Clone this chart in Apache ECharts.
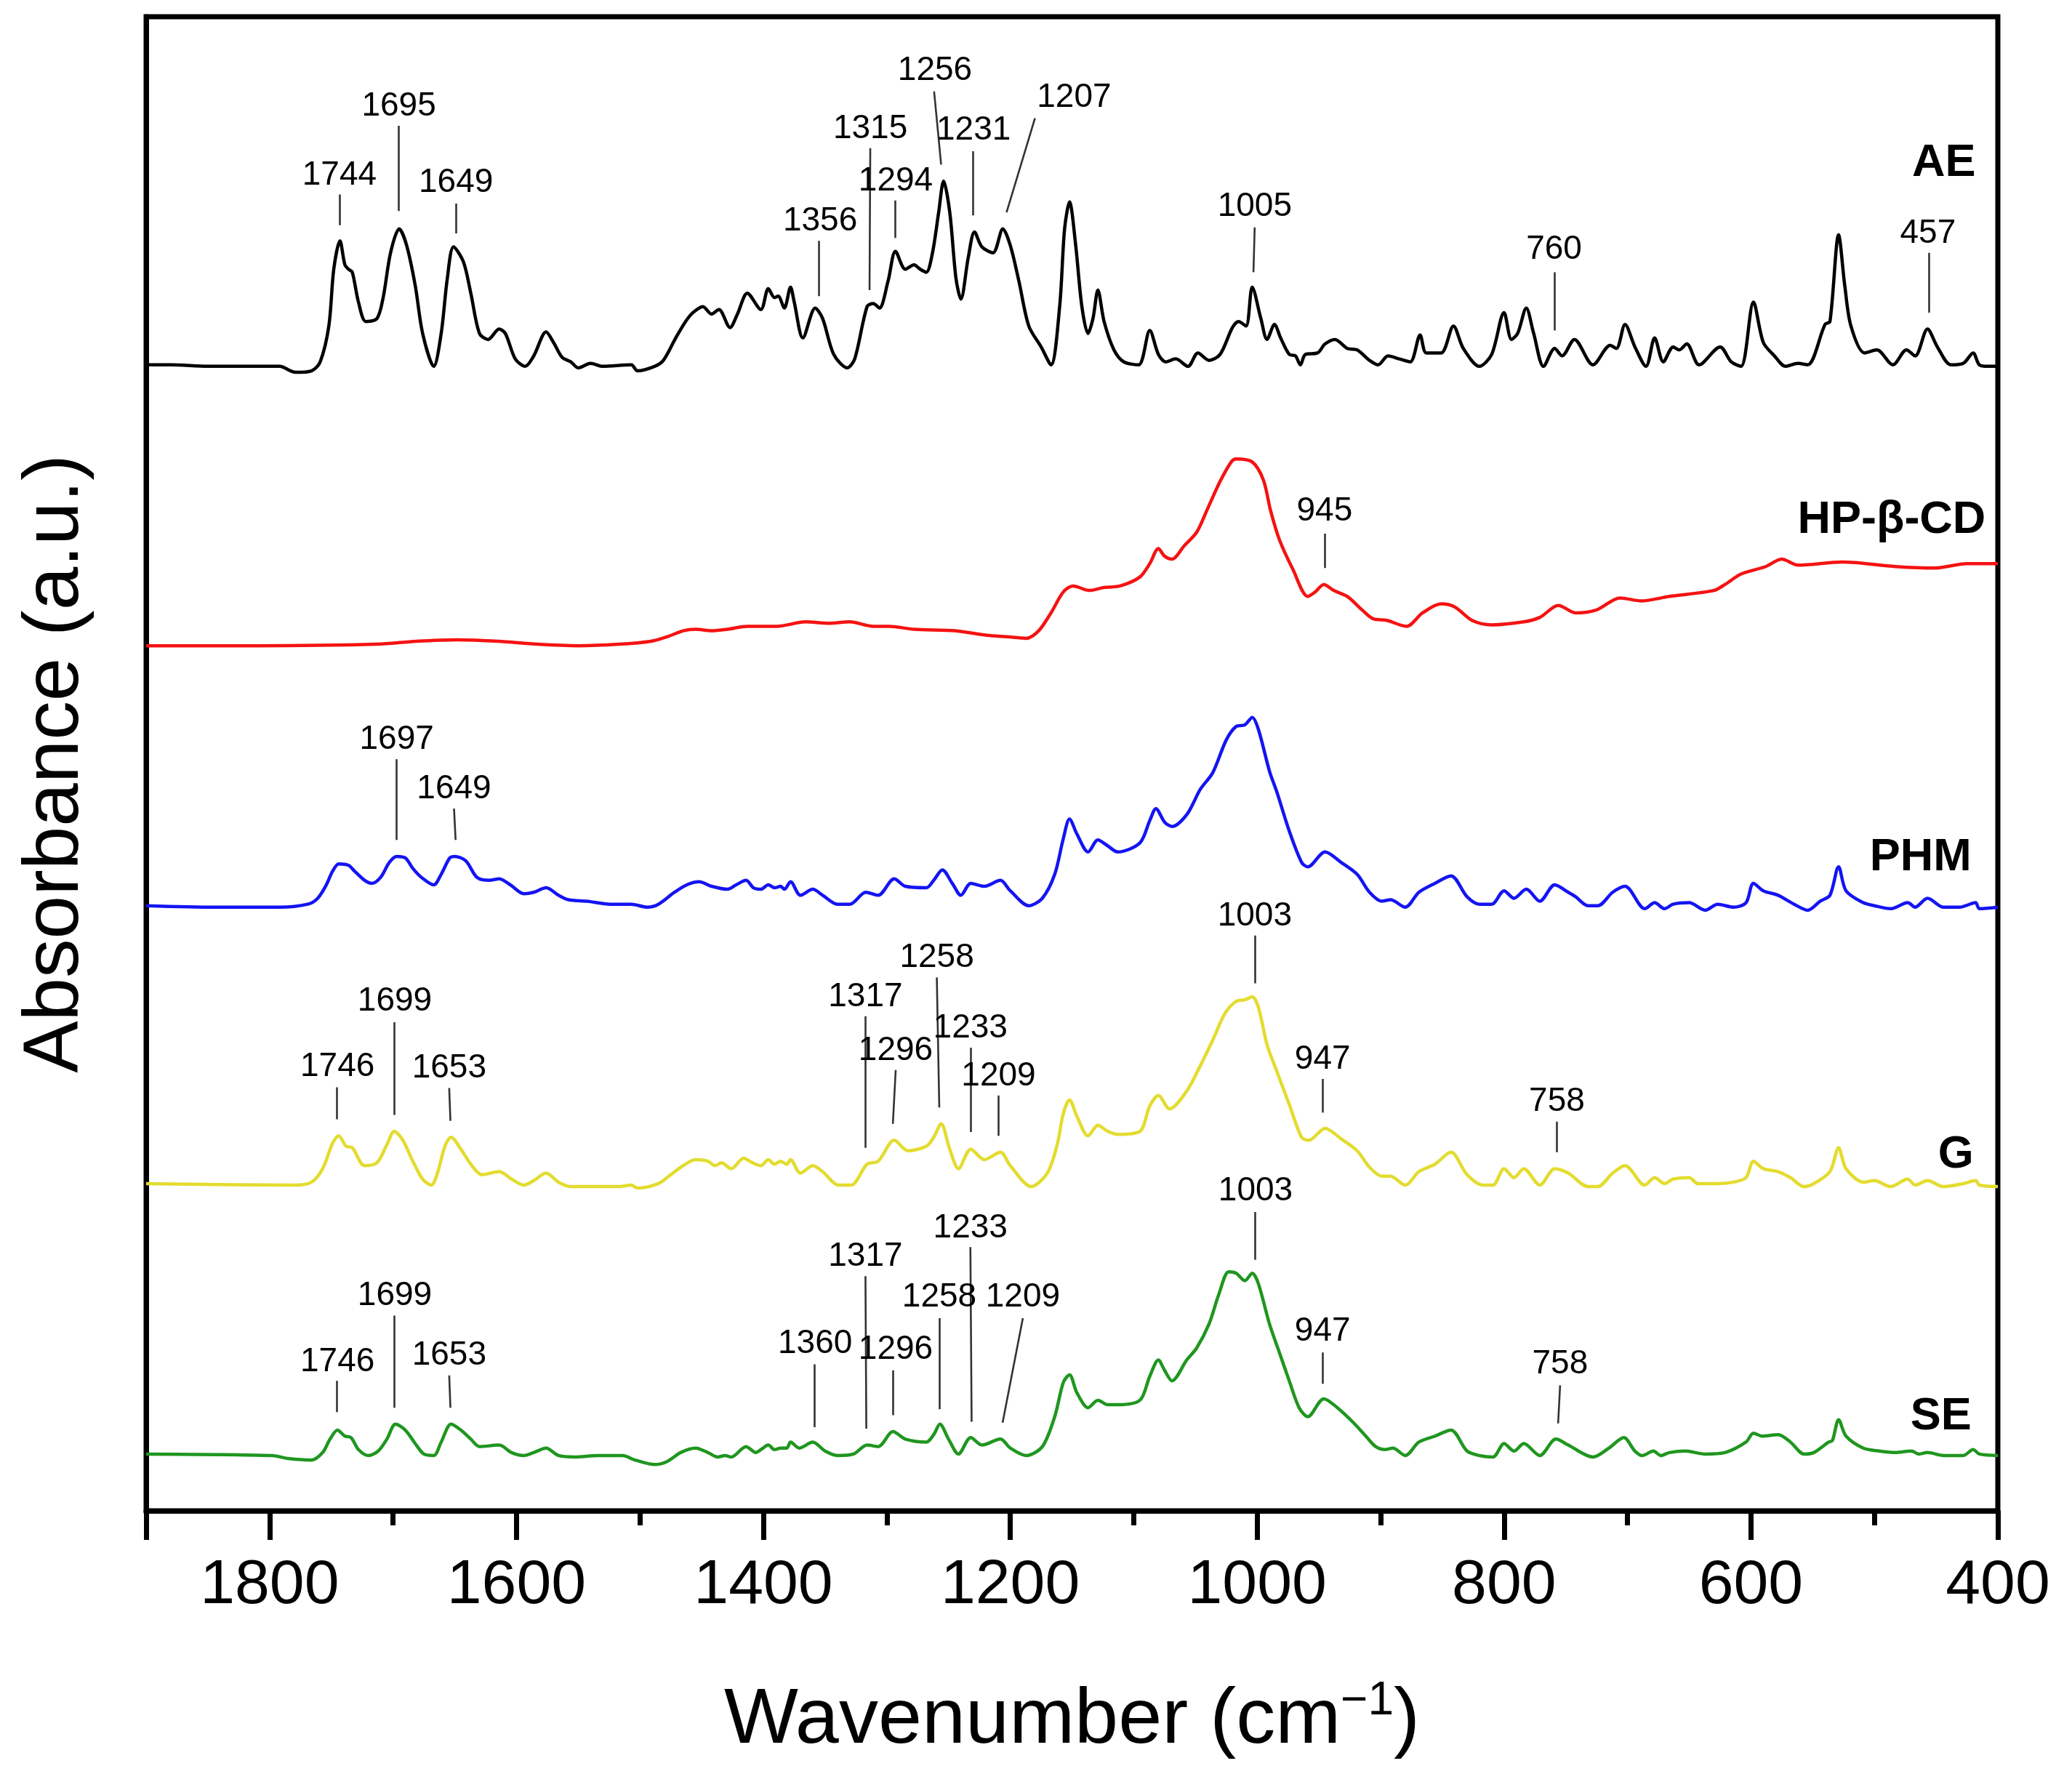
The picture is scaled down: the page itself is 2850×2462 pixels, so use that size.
<!DOCTYPE html>
<html>
<head>
<meta charset="utf-8">
<script src="https://cdn.jsdelivr.net/npm/echarts/dist/echarts.min.js"></script>
<style>html,body{margin:0;padding:0;background:#fff}#c{width:2850px;height:2462px}</style>
</head>
<body>
<div id="c"></div>
<script>
// ---- data: [wavenumber (cm-1), absorbance (a.u., stacked offset as in figure)] ----
const AE = [[1900,76.7],[1880,76.7],[1850,76.6],[1820,76.6],[1792,76.6],[1779,76.2],[1766,76.3],[1759,76.9],[1752,79.3],[1748,83.1],[1743,85.0],[1739,83.4],[1736,83.1],[1733,82.9],[1728,80.9],[1722,79.6],[1713,79.8],[1708,81.2],[1702,84.2],[1695,85.8],[1689,84.7],[1682,82.0],[1676,78.8],[1667,76.6],[1661,78.8],[1656,82.5],[1651,84.6],[1643,83.6],[1637,81.5],[1630,78.8],[1623,78.4],[1614,79.1],[1609,78.8],[1601,77.1],[1593,76.6],[1586,77.3],[1576,78.9],[1570,78.2],[1563,77.2],[1556,76.9],[1550,76.5],[1540,76.8],[1530,76.6],[1507,76.7],[1502,76.3],[1488,76.6],[1481,77.0],[1471,78.5],[1463,79.6],[1457,80.2],[1449,80.6],[1442,80.1],[1436,80.4],[1427,79.2],[1421,80.1],[1413,81.5],[1402,80.4],[1396,81.8],[1391,81.2],[1388,81.3],[1383,80.5],[1378,81.9],[1375,80.9],[1368,78.5],[1358,80.5],[1352,79.8],[1343,77.4],[1332,76.5],[1326,77.1],[1316,80.6],[1311,80.8],[1306,80.5],[1299,82.3],[1293,84.3],[1285,83.1],[1278,83.4],[1273,83.1],[1268,82.9],[1263,84.2],[1258,86.9],[1254,89.0],[1249,86.9],[1244,82.5],[1240,81.1],[1234,83.9],[1229,85.6],[1223,84.6],[1214,84.2],[1206,85.8],[1200,84.7],[1193,82.3],[1185,79.3],[1175,77.9],[1167,76.7],[1160,80.6],[1156,85.8],[1152,87.6],[1147,84.7],[1142,80.6],[1137,78.8],[1133,79.8],[1129,81.7],[1124,79.6],[1116,77.7],[1108,76.9],[1096,76.7],[1087,79.0],[1080,77.4],[1074,76.9],[1066,77.1],[1056,76.6],[1048,77.5],[1039,77.0],[1030,77.4],[1020,79.2],[1015,79.6],[1009,79.3],[1004,81.9],[997,79.8],[992,78.4],[986,79.4],[981,78.5],[974,77.4],[969,77.3],[965,76.7],[961,77.4],[951,77.5],[945,78.1],[937,78.4],[927,77.8],[919,77.7],[909,77.0],[902,76.7],[894,77.3],[885,77.1],[876,76.9],[868,78.7],[863,77.5],[851,77.5],[841,79.3],[833,77.8],[820,76.6],[810,77.4],[800,80.2],[794,78.4],[789,78.8],[782,80.5],[776,78.8],[768,76.6],[759,77.8],[753,77.3],[743,78.4],[728,76.7],[714,78.0],[709,77.8],[702,79.4],[694,77.9],[685,76.6],[678,78.5],[671,76.9],[663,77.9],[658,77.7],[652,78.1],[642,76.7],[625,77.9],[616,76.9],[608,76.6],[598,80.9],[590,78.2],[581,77.3],[572,76.6],[562,76.8],[554,76.7],[540,79.4],[536,79.6],[529,85.4],[524,82.0],[519,79.3],[508,77.5],[498,77.7],[485,76.7],[474,77.7],[467,77.3],[457,79.1],[449,77.9],[438,76.7],[428,76.8],[420,77.5],[415,76.7],[408,76.6],[400,76.6]];

const HPBCD = [[1900,57.9],[1811,57.9],[1713,58.0],[1681,58.2],[1648,58.3],[1615,58.2],[1583,58.0],[1550,57.9],[1517,58.0],[1491,58.2],[1478,58.5],[1465,58.9],[1455,59.0],[1442,58.9],[1429,59.0],[1413,59.2],[1389,59.2],[1366,59.5],[1347,59.4],[1330,59.5],[1311,59.2],[1298,59.2],[1278,59.0],[1245,58.9],[1219,58.6],[1203,58.5],[1187,58.4],[1177,58.9],[1167,60.1],[1157,61.5],[1149,61.9],[1136,61.6],[1124,61.8],[1111,61.9],[1095,62.5],[1087,63.4],[1080,64.4],[1075,63.9],[1069,63.7],[1059,64.6],[1049,65.5],[1040,67.1],[1030,68.9],[1021,70.2],[1017,70.4],[1004,70.2],[995,69.0],[989,66.9],[982,65.0],[971,63.0],[959,61.2],[953,61.5],[946,62.0],[938,61.6],[927,61.2],[915,60.3],[906,59.7],[895,59.6],[879,59.2],[866,60.1],[851,60.7],[840,60.5],[826,59.6],[810,59.3],[784,59.5],[771,59.8],[756,60.6],[742,60.1],[725,60.3],[706,61.1],[689,60.9],[666,61.2],[630,61.6],[621,62.0],[608,62.7],[588,63.2],[575,63.7],[562,63.3],[526,63.5],[483,63.2],[451,63.1],[425,63.4],[400,63.4]];

const PHM = [[1900,40.5],[1844,40.4],[1792,40.4],[1769,40.6],[1761,41.0],[1754,41.9],[1749,42.8],[1744,43.3],[1736,43.2],[1731,42.8],[1723,42.2],[1717,42.0],[1710,42.4],[1703,43.4],[1697,43.8],[1690,43.7],[1684,43.0],[1677,42.4],[1667,41.9],[1661,42.6],[1654,43.7],[1650,43.8],[1641,43.5],[1632,42.4],[1622,42.2],[1614,42.3],[1605,41.9],[1594,41.3],[1586,41.4],[1576,41.7],[1566,41.2],[1558,40.9],[1543,40.8],[1524,40.6],[1507,40.6],[1494,40.4],[1485,40.6],[1472,41.4],[1462,41.9],[1452,42.1],[1442,41.8],[1429,41.6],[1422,41.9],[1414,42.2],[1408,41.7],[1402,41.6],[1396,41.9],[1391,41.7],[1386,41.8],[1383,41.6],[1378,42.1],[1370,41.2],[1360,41.6],[1352,41.2],[1340,40.6],[1330,40.6],[1317,41.4],[1307,41.2],[1294,42.3],[1285,41.8],[1268,41.7],[1262,42.2],[1255,42.9],[1247,42.0],[1240,41.2],[1232,42.0],[1221,41.8],[1208,42.2],[1200,41.5],[1185,40.5],[1174,41.0],[1164,42.6],[1157,45.0],[1152,46.3],[1146,45.3],[1137,44.1],[1129,44.9],[1121,44.5],[1113,44.1],[1095,44.7],[1087,46.2],[1082,47.0],[1075,46.1],[1069,45.8],[1057,46.6],[1046,48.3],[1036,49.4],[1025,51.6],[1017,52.5],[1010,52.6],[1004,53.1],[999,52.3],[990,49.5],[984,48.1],[974,45.5],[964,43.4],[959,43.1],[945,44.1],[932,43.4],[919,42.6],[909,41.4],[899,40.8],[892,40.9],[880,40.4],[869,41.4],[856,42.0],[843,42.5],[830,41.1],[820,40.6],[810,40.6],[800,41.5],[792,41.0],[782,41.6],[771,40.8],[759,41.9],[748,41.4],[742,41.1],[732,40.5],[724,40.5],[712,41.4],[702,41.8],[686,40.3],[678,40.7],[670,40.3],[663,40.6],[650,40.7],[637,40.2],[627,40.6],[614,40.4],[604,40.7],[598,42.0],[590,41.5],[578,41.2],[565,40.6],[554,40.2],[544,40.8],[536,41.2],[529,43.1],[523,41.5],[509,40.7],[500,40.5],[487,40.3],[473,40.7],[467,40.4],[457,41.0],[444,40.4],[431,40.4],[418,40.7],[415,40.3],[400,40.4]];

const G = [[1900,21.9],[1779,21.8],[1766,22.0],[1757,22.9],[1749,24.6],[1744,25.1],[1738,24.4],[1733,24.3],[1723,23.1],[1713,23.3],[1705,24.5],[1699,25.4],[1692,24.8],[1684,23.4],[1676,22.2],[1669,21.8],[1664,22.6],[1658,24.4],[1653,25.0],[1645,24.2],[1637,23.2],[1628,22.5],[1614,22.7],[1604,22.2],[1594,21.8],[1586,22.1],[1576,22.6],[1566,22.0],[1556,21.7],[1540,21.7],[1517,21.7],[1507,21.8],[1502,21.6],[1485,21.9],[1475,22.5],[1465,23.1],[1455,23.5],[1445,23.4],[1439,23.1],[1434,23.3],[1426,22.9],[1416,23.6],[1409,23.3],[1402,23.1],[1396,23.5],[1391,23.2],[1386,23.4],[1381,23.2],[1378,23.5],[1370,22.6],[1360,23.1],[1352,22.7],[1339,21.8],[1329,21.8],[1316,23.2],[1307,23.4],[1294,24.8],[1283,24.1],[1268,24.4],[1262,25.0],[1256,25.9],[1249,24.2],[1242,22.9],[1232,24.2],[1221,23.5],[1208,24.0],[1200,23.1],[1183,21.7],[1170,22.6],[1162,24.5],[1157,26.6],[1152,27.5],[1146,26.4],[1137,25.1],[1129,25.8],[1121,25.4],[1113,25.2],[1095,25.4],[1087,27.1],[1080,27.8],[1071,26.9],[1057,28.1],[1046,29.8],[1036,31.5],[1026,33.3],[1017,34.1],[1010,34.2],[1004,34.4],[999,33.7],[992,31.2],[984,29.4],[974,27.2],[964,25.0],[958,24.8],[945,25.6],[932,24.9],[919,24.1],[909,23.0],[899,22.4],[892,22.4],[880,21.8],[869,22.7],[856,23.2],[843,24.0],[830,22.5],[817,21.8],[809,21.8],[800,22.9],[792,22.3],[784,22.9],[771,21.8],[759,22.9],[748,22.6],[732,21.7],[724,21.7],[712,22.6],[702,23.1],[686,21.8],[678,22.3],[670,21.9],[663,22.2],[650,22.3],[643,21.9],[627,21.9],[614,22.0],[604,22.3],[598,23.4],[590,22.9],[578,22.7],[568,22.3],[557,21.7],[549,21.9],[536,22.7],[529,24.3],[523,22.9],[509,22.0],[500,22.1],[487,21.7],[473,22.2],[467,21.8],[457,22.1],[444,21.7],[428,21.9],[418,22.1],[415,21.8],[400,21.7]];

const SE = [[1900,3.8],[1798,3.7],[1785,3.5],[1766,3.4],[1757,3.9],[1751,4.8],[1745,5.4],[1739,5.0],[1734,4.9],[1728,4.1],[1720,3.7],[1712,4.0],[1705,4.8],[1698,5.8],[1690,5.4],[1682,4.5],[1675,3.8],[1667,3.7],[1661,4.6],[1653,5.8],[1645,5.4],[1637,4.8],[1630,4.3],[1614,4.4],[1604,3.9],[1594,3.7],[1586,3.9],[1576,4.2],[1566,3.7],[1553,3.6],[1534,3.7],[1514,3.7],[1504,3.4],[1488,3.1],[1478,3.3],[1467,3.9],[1455,4.2],[1445,3.9],[1437,3.6],[1431,3.7],[1426,3.6],[1414,4.3],[1406,3.9],[1402,4.1],[1396,4.4],[1391,4.1],[1386,4.2],[1381,4.2],[1378,4.6],[1371,4.2],[1360,4.6],[1350,4.0],[1340,3.7],[1327,3.8],[1316,4.4],[1307,4.3],[1295,5.3],[1285,4.8],[1268,4.6],[1262,5.1],[1257,5.8],[1250,4.8],[1242,3.8],[1232,4.9],[1223,4.4],[1208,4.8],[1200,4.2],[1187,3.7],[1174,4.3],[1164,6.3],[1157,8.6],[1152,9.1],[1146,7.9],[1137,6.9],[1129,7.4],[1121,7.1],[1113,7.1],[1095,7.4],[1087,9.0],[1080,10.1],[1075,9.4],[1069,8.7],[1057,10.1],[1049,10.9],[1039,12.5],[1031,14.5],[1023,16.0],[1017,15.9],[1010,15.4],[1004,15.9],[999,15.2],[990,12.5],[982,10.6],[974,8.7],[966,6.9],[959,6.3],[946,7.5],[935,6.9],[922,5.9],[912,5.0],[904,4.3],[896,4.1],[890,4.2],[880,3.7],[869,4.6],[856,5.0],[843,5.4],[830,4.0],[820,3.7],[809,3.6],[800,4.5],[792,4.0],[784,4.5],[771,3.7],[758,4.8],[748,4.4],[728,3.6],[715,4.2],[703,4.9],[694,4.0],[688,3.7],[679,4.0],[673,3.7],[666,3.9],[653,4.0],[637,3.8],[621,3.9],[604,4.6],[598,5.2],[591,5.0],[578,5.1],[568,4.6],[557,3.8],[549,3.9],[537,4.6],[534,4.7],[529,6.1],[523,5.0],[509,4.2],[496,4.0],[483,3.9],[470,4.0],[464,3.8],[457,3.9],[444,3.7],[428,3.7],[420,4.1],[415,3.8],[400,3.7]];

// x-axis tick labels
const xTicks = [1800, 1600, 1400, 1200, 1000, 800, 600, 400];

// peak annotations: [text, text wn, text y, leader top wn, leader top y, leader bottom wn, leader bottom y]
const AE_PEAKS = [['1744',1743.4,89.4,1743.4,88.1,1743.4,86.05],['1695',1695.3,94.0,1695.3,92.7,1695.3,87.0],['1649',1649,88.9,1649,87.5,1649,85.5],['1356',1354,86.3,1355,85.0,1355,81.3],['1315',1313.4,92.5,1313.4,91.2,1314,81.7],['1294',1292.8,89.0,1293.4,87.7,1293.4,85.2],['1256',1261,96.4,1261.7,95.0,1256,90.1],['1231',1229.7,92.4,1230,91.0,1230,86.7],['1207',1148.3,94.6,1180,93.2,1203,86.9],['1005',1002,87.3,1002,85.9,1003,82.9],['760',759.5,84.4,759,82.9,759,79.0],['457',456.6,85.5,455.6,84.2,455.6,80.2]];
const HP_PEAKS = [['945',945.4,66.9,945.4,65.4,945.4,63.1]];
const PHM_PEAKS = [['1697',1697,51.6,1697,50.3,1697,44.9],['1649',1650.6,48.3,1650.6,47.0,1649.3,44.9]];
const G_PEAKS = [['1746',1745,29.7,1745.3,28.35,1745.3,26.2],['1699',1698.6,34.1,1699.3,32.7,1699.3,26.5],['1653',1654.5,29.6,1654.5,28.3,1653.5,26.1],['1317',1317.3,34.4,1317.3,33.1,1317.3,24.3],['1296',1292.8,30.8,1292.8,29.5,1295.1,25.9],['1258',1259.5,37.0,1259.5,35.7,1257.5,27.0],['1233',1232.3,32.3,1232.3,31.0,1232.3,25.35],['1209',1209.5,29.1,1209.5,27.8,1209.5,25.1],['1003',1002,39.8,1002,38.5,1002,35.3],['947',947,30.2,947,28.9,947,26.65],['758',757.2,27.4,757.2,26.05,757.2,24.0]];
const SE_PEAKS = [['1746',1745,9.95,1745.3,8.7,1745.3,6.6],['1699',1698.6,14.4,1699.3,13.06,1699.3,6.9],['1653',1654.5,10.4,1654.5,9.06,1653.5,6.9],['1360',1358.1,11.2,1358.8,9.8,1358.8,5.6],['1317',1317.3,17.0,1317.3,15.7,1316.6,5.5],['1296',1292.8,10.8,1294.8,9.4,1294.8,6.4],['1258',1257.5,14.3,1257.5,12.9,1257.5,6.8],['1233',1232.3,18.9,1232.3,17.65,1231.3,5.96],['1209',1189.8,14.3,1189.8,12.9,1206.2,5.9],['1003',1001.3,21.4,1001.9,20.0,1001.9,16.8],['947',947,12.0,947,10.6,947,8.5],['758',754.6,9.8,754.6,8.4,756.2,5.85]];

// sample names: [name, right-end wn, y]
const NAMES = [['AE',418,90.2],['HP-β-CD',409.8,66.3],['PHM',421.3,43.7],['G',419.6,23.8],['SE',421.3,6.3]];

const FONT = '"Liberation Sans", Arial, Helvetica, sans-serif';
const spectra = [
  {name:'AE', data:AE, color:'#000000'},
  {name:'HP-β-CD', data:HPBCD, color:'#f51212'},
  {name:'PHM', data:PHM, color:'#1414f2'},
  {name:'G', data:G, color:'#e3dc2f'},
  {name:'SE', data:SE, color:'#1f961f'}
];
const allPeaks = [].concat(AE_PEAKS, HP_PEAKS, PHM_PEAKS, G_PEAKS, SE_PEAKS);

const chart = echarts.init(document.getElementById('c'), null, {renderer:'canvas', devicePixelRatio:1});
const series = spectra.map(s => ({
  type:'line', name:s.name, data:s.data, showSymbol:false, symbol:'none',
  smooth:0.3, lineStyle:{color:s.color, width:4.5}, silent:true, z:3
}));
series.push({
  type:'lines', coordinateSystem:'cartesian2d', silent:true, z:4,
  lineStyle:{color:'#333333', width:2.6, opacity:1},
  data: allPeaks.map(p => ({coords:[[p[3],p[4]],[p[5],p[6]]]}))
});
series.push({
  type:'scatter', silent:true, z:5, symbolSize:1, itemStyle:{color:'#ffffff', opacity:0},
  data: allPeaks.map(p => [p[1], p[2], p[0]]),
  label:{show:true, position:'inside', formatter:p => p.value[2], fontFamily:FONT, fontSize:46, color:'#000000', opacity:1, textBorderWidth:0, align:'center', verticalAlign:'middle'}
});
series.push({
  type:'scatter', silent:true, z:5, symbolSize:1, itemStyle:{color:'#ffffff', opacity:0},
  data: NAMES.map(n => [n[1], n[2], n[0]]),
  label:{show:true, position:'inside', formatter:p => p.value[2], fontFamily:FONT, fontSize:63, fontWeight:'bold', color:'#000000', opacity:1, textBorderWidth:0, align:'right', verticalAlign:'middle'}
});

chart.setOption({
  backgroundColor:'#ffffff',
  animation:false,
  grid:{left:201, right:102, top:23, bottom:384, show:true, borderColor:'#000', borderWidth:7, backgroundColor:'transparent', containLabel:false, outerBoundsMode:'none'},
  xAxis:[{
    type:'value', inverse:true, min:400, max:1900, interval:200, position:'bottom',
    axisLine:{show:true, lineStyle:{color:'#000', width:7}},
    axisTick:{show:true, inside:false, length:40, lineStyle:{color:'#000', width:7}},
    axisLabel:{show:true, margin:60, fontSize:86, fontFamily:FONT, color:'#000', showMinLabel:true, showMaxLabel:true,
      formatter: v => xTicks.indexOf(v) >= 0 ? String(v) : ''},
    splitLine:{show:false},
    name:'{a|Wavenumber (cm}{s|−1}{a|)}', nameLocation:'middle', nameGap:230,
    nameTextStyle:{fontFamily:FONT, color:'#000', rich:{
      a:{fontSize:108, fontFamily:FONT, color:'#000'},
      s:{fontSize:64, fontFamily:FONT, color:'#000', padding:[0,0,54,0]}
    }}
  },{
    type:'value', inverse:true, min:400, max:1900, interval:100, position:'bottom',
    axisLine:{show:false}, axisLabel:{show:false}, splitLine:{show:false},
    axisTick:{show:true, inside:false, length:20, lineStyle:{color:'#000', width:7}}
  }],
  yAxis:{
    type:'value', min:0, max:100,
    axisLine:{show:true, lineStyle:{color:'#000', width:7}},
    axisTick:{show:false}, axisLabel:{show:false}, splitLine:{show:false},
    name:'Absorbance (a.u.)', nameLocation:'middle', nameGap:70,
    nameTextStyle:{fontSize:107, fontFamily:FONT, color:'#000'}
  },
  series: series
});
</script>
</body>
</html>
